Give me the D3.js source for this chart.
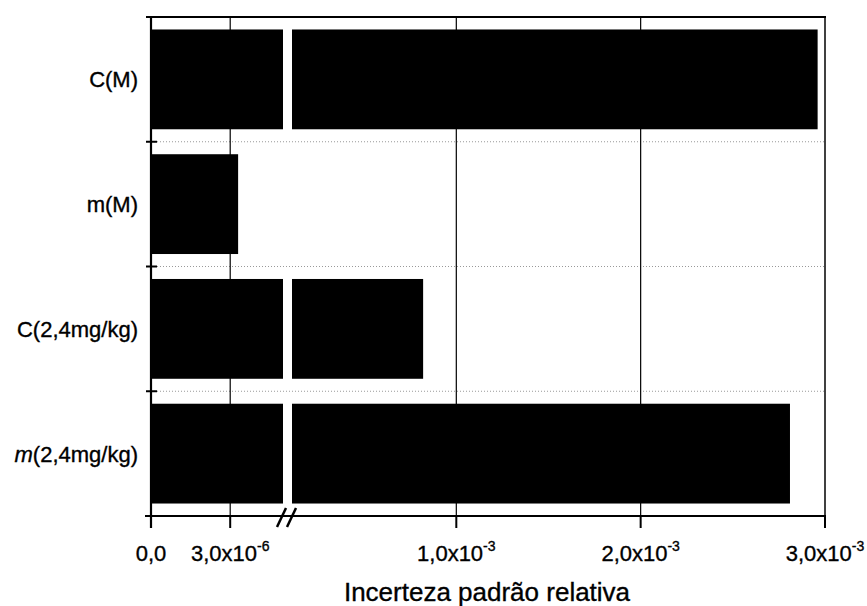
<!DOCTYPE html>
<html><head><meta charset="utf-8">
<script src="https://cdn.jsdelivr.net/npm/d3@7"></script>
<style>
body{margin:0;background:#fff;}
text{font-family:"Liberation Sans",Arial,Helvetica,sans-serif;fill:#000;stroke:#000;stroke-width:0.35px;}
</style></head>
<body><svg id="c" width="867" height="606"></svg>
<script>
const categories = ["C(M)", "m(M)", "C(2,4mg/kg)", "m(2,4mg/kg)"];
const values = [2.96e-3, 3.3e-6, 8.2e-4, 2.81e-3];
const leftTicks = [0, 3.0e-6];
const leftTickLabels = [["0,0", ""], ["3,0x10", "-6"]];
const rightTicks = [1.0e-3, 2.0e-3, 3.0e-3];
const rightTickLabels = [["1,0x10", "-3"], ["2,0x10", "-3"], ["3,0x10", "-3"]];
const xTitle = "Incerteza padrão relativa";

(function () {
const svg = d3.select("#c");
const pTop = 17, pBottom = 516, pLeft = 151, pRight = 825;
const breakL = 283, breakR = 292;
const leftMax = 5e-6, rightMin = 1.087e-4, rightMax = 3.0e-3;

const xL = d3.scaleLinear().domain([0, leftMax]).range([pLeft, breakL]);
const xR = d3.scaleLinear().domain([rightMin, rightMax]).range([breakR, pRight]);
const y = d3.scaleBand().domain(categories).range([pTop, pBottom]).paddingInner(0.2).paddingOuter(0.1);
const step = y.step();

// horizontal dotted gridlines at category boundaries
categories.slice(1).forEach(c => {
  const yy = y(c) - step * 0.1;
  svg.append("line").attr("x1", pLeft).attr("x2", pRight).attr("y1", yy).attr("y2", yy)
    .attr("stroke", "#999").attr("stroke-width", 1).attr("stroke-dasharray", "1,2");
});
// vertical solid gridlines
[xL(leftTicks[1]), ...rightTicks.slice(0, 2).map(v => xR(v))].forEach(xx => {
  svg.append("line").attr("x1", xx).attr("x2", xx).attr("y1", pTop).attr("y2", pBottom)
    .attr("stroke", "#000").attr("stroke-width", 1.2);
});

// bars
const data = categories.map((c, i) => ({c, v: values[i]}));
const g = svg.append("g");
data.forEach(d => {
  const lv = Math.min(d.v, leftMax);
  g.append("rect").attr("x", xL(0)).attr("y", y(d.c)).attr("width", xL(lv) - xL(0))
    .attr("height", y.bandwidth()).attr("fill", "#000");
  if (d.v > leftMax) {
    g.append("rect").attr("x", xR(rightMin)).attr("y", y(d.c)).attr("width", xR(d.v) - xR(rightMin))
      .attr("height", y.bandwidth()).attr("fill", "#000");
  }
});

// frame
svg.append("line").attr("x1", pLeft - 3).attr("x2", pRight + 1).attr("y1", pTop).attr("y2", pTop)
  .attr("stroke", "#000").attr("stroke-width", 1.8);
svg.append("line").attr("x1", pRight).attr("x2", pRight).attr("y1", pTop).attr("y2", pBottom)
  .attr("stroke", "#000").attr("stroke-width", 1.5);
// left axis
svg.append("line").attr("x1", pLeft).attr("x2", pLeft).attr("y1", pTop - 1).attr("y2", pBottom + 12)
  .attr("stroke", "#000").attr("stroke-width", 2.2);
[pTop, ...categories.slice(1).map(c => y(c) - step * 0.1), pBottom].forEach(yy => {
  svg.append("line").attr("x1", pLeft - 5).attr("x2", pLeft + 6).attr("y1", yy).attr("y2", yy)
    .attr("stroke", "#000").attr("stroke-width", 2);
});
// bottom axis
svg.append("line").attr("x1", pLeft - 6).attr("x2", pRight + 1).attr("y1", pBottom).attr("y2", pBottom)
  .attr("stroke", "#000").attr("stroke-width", 2.2);
// break marks
[0, 10].forEach(o => {
  svg.append("line").attr("x1", breakL - 6 + o).attr("y1", pBottom + 11)
    .attr("x2", breakL + 3 + o).attr("y2", pBottom - 8)
    .attr("stroke", "#000").attr("stroke-width", 2.5);
});

// category labels
categories.forEach(c => {
  const t = svg.append("text").attr("x", 138).attr("y", y(c) + y.bandwidth() / 2 + 8)
    .attr("text-anchor", "end").attr("font-size", 22);
  if (c === "m(2,4mg/kg)") {
    t.append("tspan").attr("font-style", "italic").text("m");
    t.append("tspan").text(c.slice(1));
  } else t.text(c);
});

// x ticks and labels
function tickLabel(xx, lab) {
  svg.append("line").attr("x1", xx).attr("x2", xx).attr("y1", pBottom).attr("y2", pBottom + 12)
    .attr("stroke", "#000").attr("stroke-width", 2);
  const t = svg.append("text").attr("x", xx).attr("y", 561).attr("text-anchor", "middle")
    .attr("font-size", 22);
  t.append("tspan").text(lab[0]);
  if (lab[1]) t.append("tspan").attr("font-size", 14).attr("dy", -10).text(lab[1]);
}
leftTicks.forEach((v, i) => tickLabel(xL(v), leftTickLabels[i]));
rightTicks.forEach((v, i) => tickLabel(xR(v), rightTickLabels[i]));

svg.append("text").attr("x", 487).attr("y", 601).attr("text-anchor", "middle")
  .attr("font-size", 26).text(xTitle);
})();
</script></body></html>
